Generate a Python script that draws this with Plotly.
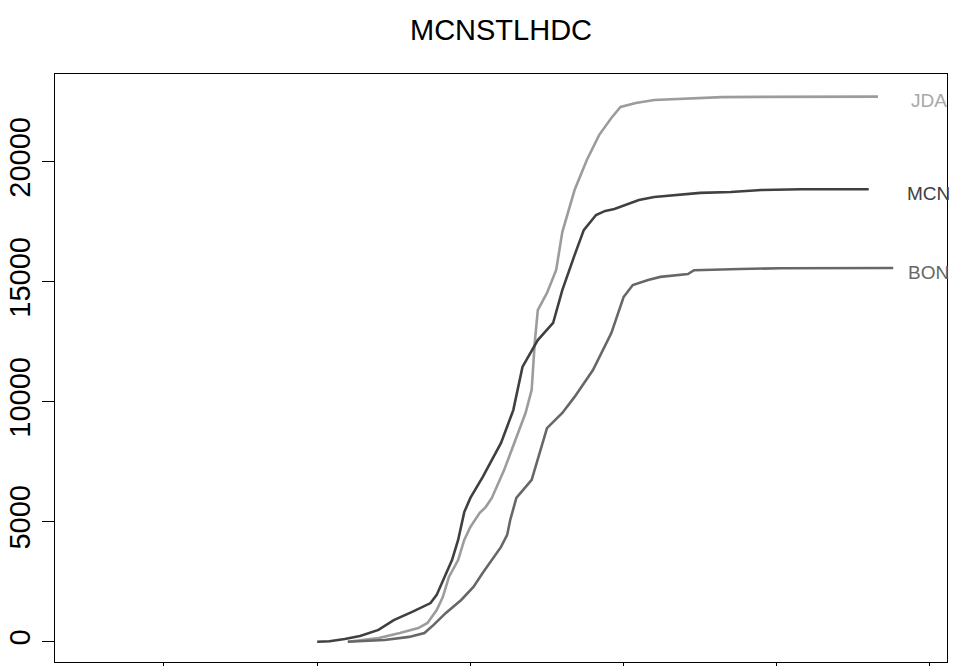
import plotly.graph_objs as go

# cumulative counts by day of year
mcn_day = [100, 104, 109, 114, 120, 125, 131, 137, 139, 142, 144, 146, 148, 150, 154,
           160, 164, 167, 172, 177, 180, 184, 187, 191, 194, 197, 201, 205, 210, 217,
           225, 235, 245, 258, 280]
mcn = [0, 20, 110, 240, 490, 900, 1240, 1610, 1950, 2860, 3400, 4240, 5400, 5990, 6860,
       8280, 9650, 11450, 12570, 13280, 14650, 16110, 17150, 17780, 17950, 18030, 18200,
       18400, 18530, 18610, 18700, 18740, 18820, 18850, 18850]

jda_day = [110, 120, 127, 133, 136, 139, 141, 143, 146, 148, 150, 153, 155, 157, 161,
           165, 168, 170, 171, 172, 175, 178, 179, 180, 184, 188, 192, 196, 199, 204,
           210, 218, 232, 245, 283]
jda = [0, 150, 360, 570, 780, 1320, 1860, 2700, 3400, 4240, 4780, 5360, 5610, 5990, 7150,
       8530, 9530, 10490, 12450, 13820, 14530, 15490, 16320, 17070, 18820, 20070, 21110,
       21820, 22280, 22450, 22570, 22610, 22690, 22700, 22710]

bon_day = [110, 122, 130, 135, 138, 142, 147, 151, 154, 157, 160, 162, 163, 165, 170,
           175, 180, 184, 190, 196, 200, 203, 208, 212, 217, 221, 223, 228, 238, 251,
           267, 288]
bon = [0, 70, 200, 360, 700, 1200, 1740, 2280, 2860, 3400, 3950, 4450, 5070, 5990, 6740,
       8900, 9530, 10200, 11320, 12860, 14360, 14860, 15070, 15200, 15280, 15320, 15480,
       15500, 15530, 15560, 15570, 15570]

names = ["JDA", "MCN", "BON"]
line_colors = ["#9c9c9c", "#404040", "#676767"]
label_colors = ["#a8a8a8", "#404040", "#676767"]

x_ticks = [50, 100, 150, 200, 250, 300]
y_ticks = [0, 5000, 10000, 15000, 20000]

fig = go.Figure()
series = [(jda_day, jda), (mcn_day, mcn), (bon_day, bon)]
for (xs, ys), name, col in zip(series, names, line_colors):
    fig.add_trace(go.Scatter(x=xs, y=ys, mode="lines", name=name,
                             line=dict(color=col, width=2.6), showlegend=False))

for (xs, ys), name, col in zip(series, names, label_colors):
    fig.add_annotation(x=299.6, y=ys[-1], text=name, showarrow=False,
                       xanchor="center", yanchor="middle", yshift=-4,
                       font=dict(size=19, color=col, family="Liberation Sans, Arial"))

fig.update_layout(
    width=956, height=666, autosize=False,
    paper_bgcolor="white", plot_bgcolor="white",
    margin=dict(l=55, r=9, t=74, b=4, autoexpand=False),
    font=dict(family="Liberation Sans, Arial", color="black"),
    title=dict(text="MCNSTLHDC", x=0.5, xref="paper", y=1 - 30 / 666, yref="container",
               xanchor="center", yanchor="middle", font=dict(size=29, color="black")),
)

fig.update_xaxes(
    range=[14.43, 305.55], tickvals=x_ticks, showticklabels=False, automargin=False,
    ticks="outside", ticklen=12, tickcolor="black", tickwidth=1,
    showline=True, linecolor="black", linewidth=1, mirror=True,
    showgrid=False, zeroline=False,
)

fig.update_yaxes(
    range=[-846, 23654], tickvals=y_ticks, ticktext=[str(v) for v in y_ticks],
    tickangle=-90, tickfont=dict(size=29, color="black"), automargin=False,
    ticks="outside", ticklen=12, tickcolor="black", tickwidth=1,
    showline=True, linecolor="black", linewidth=1, mirror=True,
    showgrid=False, zeroline=False,
)

# drop the default page margin so the figure fills the window exactly
fig.write_html("out.html",
               config={"displayModeBar": False},
               post_script="document.body.style.margin='0';document.body.style.overflow='hidden';")
